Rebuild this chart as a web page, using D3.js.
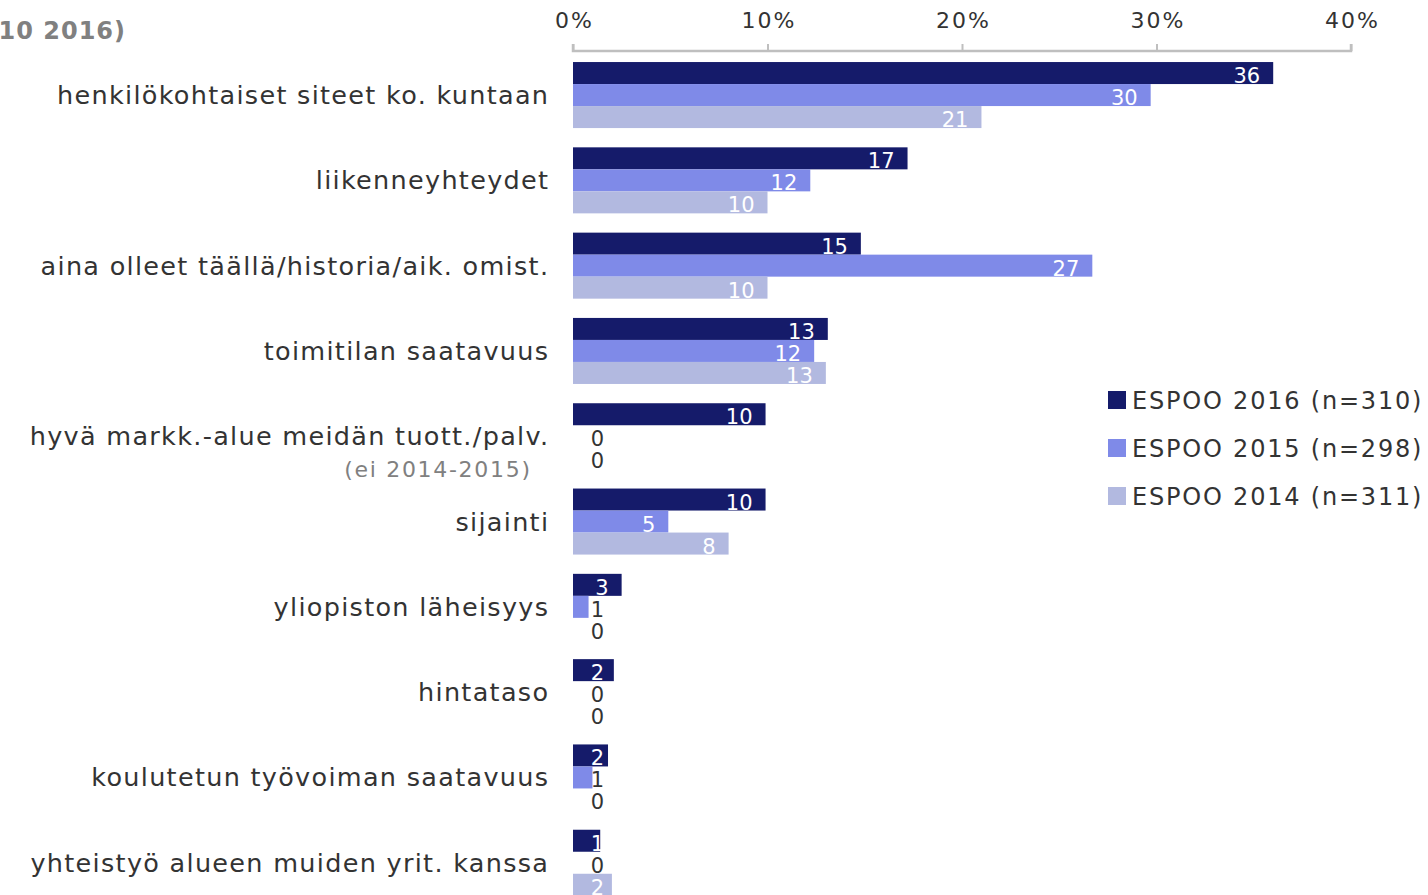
<!DOCTYPE html>
<html>
<head>
<meta charset="utf-8">
<script src="https://cdn.jsdelivr.net/npm/d3@7"></script>
<style>
  body { margin: 0; background: #fff; }
  text { font-family: "DejaVu Sans", Verdana, sans-serif; }
</style>
</head>
<body>
<script>
const width = 1428;
const height = 895;

const categories = [
    "henkilökohtaiset siteet ko. kuntaan",
    "liikenneyhteydet",
    "aina olleet täällä/historia/aik. omist.",
    "toimitilan saatavuus",
    "hyvä markk.-alue meidän tuott./palv.",
    "sijainti",
    "yliopiston läheisyys",
    "hintataso",
    "koulutetun työvoiman saatavuus",
    "yhteistyö alueen muiden yrit. kanssa"
];
const seriesNames = ["ESPOO 2016 (n=310)", "ESPOO 2015 (n=298)", "ESPOO 2014 (n=311)"];
// percentages (labels show them rounded)
const values2016 = [36.0, 17.2, 14.8, 13.1, 9.9, 9.9, 2.5, 2.1, 1.8, 1.4];
const values2015 = [29.7, 12.2, 26.7, 12.4, 0, 4.9, 0.8, 0, 1.0, 0];
const values2014 = [21.0, 10.0, 10.0, 13.0, 0, 8.0, 0, 0, 0, 2.0];
const colors = ["#151b6a", "#7f8ae8", "#b2b9e0"];
const xTicks = [0, 10, 20, 30, 40];

const allSeries = [values2016, values2015, values2014];

const svg = d3.select('body').append('svg')
    .attr("width", width).attr("height", height);

// horizontal value scale (percent)
const xScale = d3.scaleLinear().domain([0, 40]).range([573, 1351]);

// category bands and the three bars within each
const yScale = d3.scaleBand().domain(categories)
    .range([52.4, 905.4]).paddingInner(0.226).paddingOuter(0.113);
const ySub = d3.scaleBand().domain(d3.range(3)).range([0, yScale.bandwidth()]);

// title fragment (cut off at the left edge)
svg.append('text').attr("x", 126).attr("y", 39)
    .attr("text-anchor", "end")
    .style("font-size", "24px").style("font-weight", "bold").style("fill", "#808080")
    .style("letter-spacing", "1px")
    .text("(n=310 2016)");

// top axis
const xAxis = d3.axisTop(xScale).tickValues(xTicks)
    .tickFormat(d => d + "%").tickSize(7).tickPadding(16);
const gx = svg.append('g').attr("transform", "translate(0,51)").call(xAxis);
gx.select('.domain').attr("stroke", "#bfbfbf").attr("stroke-width", 2.5)
    .attr("d", "M573,-7V0H1351V-7");
gx.selectAll('.tick line').attr("stroke", "#bfbfbf").attr("stroke-width", 2);
gx.selectAll('.tick text').style("font-size", "22px").style("fill", "#333")
    .style("letter-spacing", "2px").attr("dx", "1px")
    .style("font-family", "\"DejaVu Sans\", Verdana, sans-serif");

// bars
const groups = svg.selectAll('g.cat').data(categories).enter().append('g')
    .attr("class", "cat")
    .attr("transform", d => "translate(0," + yScale(d) + ")");

groups.each(function(cat, ci) {
    const g = d3.select(this);
    allSeries.forEach((vals, si) => {
        const v = vals[ci];
        const barEnd = xScale(v);
        g.append('rect')
            .attr("x", xScale(0)).attr("y", ySub(si))
            .attr("width", barEnd - xScale(0)).attr("height", ySub.bandwidth())
            .style("fill", colors[si]);
        const lx = Math.max(barEnd - 13, 604);
        g.append('text')
            .attr("x", lx).attr("y", ySub(si) + ySub.bandwidth() - 1)
            .attr("text-anchor", "end")
            .style("font-size", "21px")
            .style("fill", lx - 8 < barEnd ? "#fff" : "#333")
            .text(Math.round(v));
    });
});

// category labels
svg.selectAll('text.cat').data(categories).enter().append('text')
    .attr("class", "cat")
    .attr("x", 549.3).attr("y", d => yScale(d) + yScale.bandwidth() / 2 + 9)
    .attr("text-anchor", "end")
    .style("font-size", "25.5px").style("fill", "#333")
    .style("letter-spacing", "1.3px")
    .text(d => d);

svg.append('text').attr("x", 531.7).attr("y", yScale(categories[4]) + yScale.bandwidth() / 2 + 41)
    .attr("text-anchor", "end")
    .style("font-size", "22px").style("fill", "#808080")
    .style("letter-spacing", "1.7px")
    .text("(ei 2014-2015)");

// legend
const legend = svg.selectAll('g.legend').data(seriesNames).enter().append('g')
    .attr("class", "legend")
    .attr("transform", (d, i) => "translate(1108," + (400 + i * 48) + ")");
legend.append('rect').attr("x", 0).attr("y", -9).attr("width", 18).attr("height", 18)
    .style("fill", (d, i) => colors[i]);
legend.append('text').attr("x", 24).attr("y", 9)
    .style("font-size", "24px").style("fill", "#333")
    .style("letter-spacing", "1.8px")
    .text(d => d);
</script>
</body>
</html>
